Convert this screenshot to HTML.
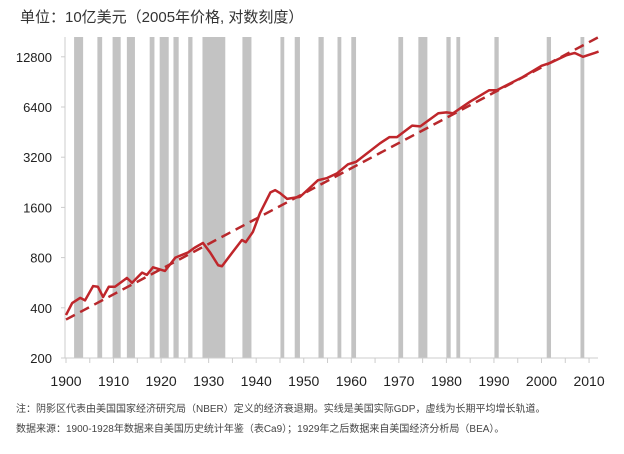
<!DOCTYPE html>
<html><head><meta charset="utf-8"><style>
body{margin:0;background:#fff;width:624px;height:449px;overflow:hidden;font-family:"Liberation Sans","Noto Sans CJK SC",sans-serif}
</style></head><body>
<svg id="chart" width="624" height="449" xmlns="http://www.w3.org/2000/svg" style="font-family:'Liberation Sans','Noto Sans CJK SC',sans-serif">
<text x="20" y="22" font-size="15" fill="#333">单位：10亿美元（2005年价格, 对数刻度）</text>
<g id="bars"></g><g id="axes"></g><g id="lines"></g>
<text x="16" y="412" font-size="10" fill="#444">注：阴影区代表由美国国家经济研究局（NBER）定义的经济衰退期。实线是美国实际GDP，虚线为长期平均增长轨道。</text>
<text x="16" y="432" font-size="10" fill="#444">数据来源：1900-1928年数据来自美国历史统计年鉴（表Ca9）；1929年之后数据来自美国经济分析局（BEA）。</text>
</svg>
<script>
const recStart=[1901.7,1906.6,1909.8,1912.8,1917.6,1919.7,1922.6,1925.7,1928.7,1937.1,1945.1,1948.1,1953.1,1957.1,1960.0,1969.9,1974.1,1980.0,1982.1,1990.1,2001.1,2008.2];
const recEnd=[1903.6,1907.6,1911.5,1914.5,1918.6,1921.6,1923.7,1926.6,1933.5,1939.0,1945.9,1949.2,1954.2,1957.9,1961.0,1970.9,1976.0,1980.9,1982.9,1991.0,2002.0,2009.0];
const gdpYears=[1900,1901.3,1903,1904,1905.7,1906.7,1907.8,1909,1910.3,1912.8,1913.9,1916,1917,1918.3,1920.8,1923,1925.7,1927,1928.8,1930.3,1932,1932.8,1935,1937,1937.8,1939.3,1940.8,1943,1944,1945,1946.5,1947.8,1949.2,1951,1953,1954.9,1957,1959.3,1961,1966,1968,1969.6,1972.8,1974.5,1978.3,1980,1981.4,1985,1989,1990.6,1996,2000,2001.8,2005.3,2007,2008.7,2011.2,2012];
const gdpValues=[362,427,459,443,540,535,464,535,535,604,565,650,630,700,665,800,860,915,980,860,720,710,860,1020,990,1140,1480,1970,2030,1950,1800,1825,1850,2060,2330,2400,2560,2900,3000,3870,4220,4220,4950,4900,5870,5940,5870,6900,8070,8070,9660,11300,11750,13100,13500,12800,13500,13750];
const trendYears=[1900,2012];
const trendValues=[340,16800];
const yTicks=[200,400,800,1600,3200,6400,12800];
const xTicks=[1900,1910,1920,1930,1940,1950,1960,1970,1980,1990,2000,2010];
const NS='http://www.w3.org/2000/svg';
const x=y=>66+(y-1900)*4.755;
const yv=v=>358-Math.log2(v/200)*50.2;
function mk(t,a,p){const e=document.createElementNS(NS,t);for(const k in a)e.setAttribute(k,a[k]);document.getElementById(p).appendChild(e);return e;}
recStart.forEach((s,i)=>{const r=mk('rect',{x:x(s),y:37,width:x(recEnd[i])-x(s),height:321,fill:'#c3c3c3'},'bars');

});
const ax=mk('line',{x1:65,y1:37,x2:65,y2:358,stroke:'#ccc'},'axes');


const bx=mk('line',{x1:62,y1:358,x2:598,y2:358,stroke:'#ccc'},'axes');


yTicks.forEach(v=>{mk('line',{x1:61,x2:65,y1:yv(v),y2:yv(v),stroke:'#ccc'},'axes');
const t=mk('text',{x:52,y:yv(v)+5,'font-size':13,'text-anchor':'end',fill:'#222'},'axes');t.textContent=v;

});
for(let yr=1900;yr<=2010;yr+=5)mk('line',{x1:x(yr),x2:x(yr),y1:358,y2:363,stroke:'#ccc'},'axes');
xTicks.forEach(v=>{const t=mk('text',{x:x(v),y:386,'font-size':14,'text-anchor':'middle',fill:'#222'},'axes');t.textContent=v;

});
const tr=mk('line',{x1:x(trendYears[0]),y1:yv(trendValues[0]),x2:x(trendYears[1]),y2:yv(trendValues[1]),stroke:'#b8282c','stroke-width':2.5,'stroke-dasharray':'10,6'},'lines');


const g=mk('polyline',{points:gdpYears.map((yr,i)=>x(yr)+','+yv(gdpValues[i])).join(' '),fill:'none',stroke:'#bf262b','stroke-width':2.5,'stroke-linejoin':'round'},'lines');


</script>
</body></html>
